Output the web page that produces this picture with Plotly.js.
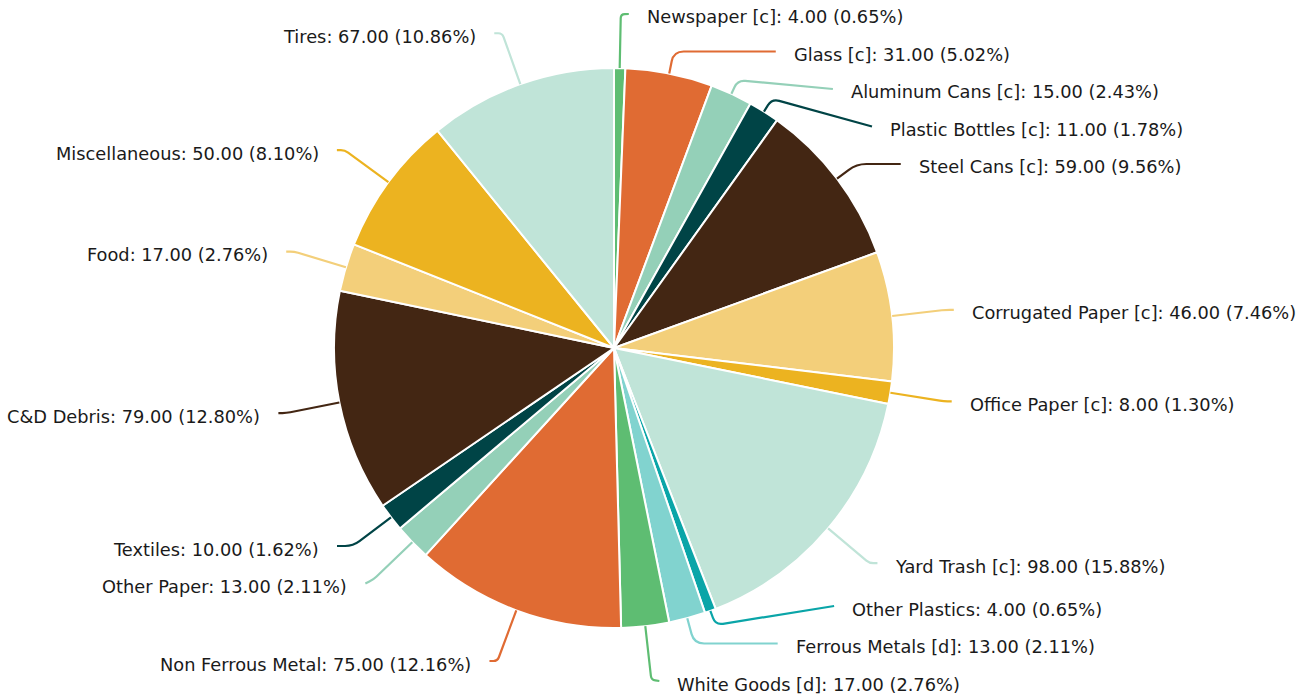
<!DOCTYPE html>
<html>
<head>
<meta charset="utf-8">
<script src="https://cdn.plot.ly/plotly-3.0.1.min.js"></script>
<style>html,body{margin:0;padding:0;background:#fff;}</style>
</head>
<body>
<div id="chart" style="width:1311px;height:698px;"></div>
<script>
const categories = ["Newspaper [c]", "Glass [c]", "Aluminum Cans [c]", "Plastic Bottles [c]", "Steel Cans [c]",
  "Corrugated Paper [c]", "Office Paper [c]", "Yard Trash [c]", "Other Plastics", "Ferrous Metals [d]",
  "White Goods [d]", "Non Ferrous Metal", "Other Paper", "Textiles", "C&D Debris", "Food", "Miscellaneous", "Tires"];
const values = [4, 31, 15, 11, 59, 46, 8, 98, 4, 13, 17, 75, 13, 10, 79, 17, 50, 67];
const colors = ["#5ebd72", "#e06b33", "#94d0b8", "#004446", "#432613", "#f3cf7a", "#ecb320", "#c0e4d8", "#0aa5a8",
  "#81d3cf", "#5ebd72", "#e06b33", "#94d0b8", "#004446", "#432613", "#f3cf7a", "#ecb320", "#c0e4d8"];

const W = 1311, H = 698;
const cx = 614, cy = 348, R = 280;
const LEN = 54, LEN2 = 8, GAP = 37.5, TOP = 14, BOTTOM = 681, TMIN = 15, TEXT_OFF = 17;

const total = values.reduce((a, b) => a + b, 0);
let acc = 0;
const items = values.map((v, i) => {
  const mid = (acc + v / 2) / total * 2 * Math.PI;
  acc += v;
  const s = Math.sin(mid), c = -Math.cos(mid);
  const p1 = [cx + R * s, cy + R * c];
  return { i, s, c, p1, dir: s >= 0 ? 1 : -1, ny: p1[1] + LEN * c };
});

function layoutSide(list) {
  list.sort((a, b) => a.ny - b.ny);
  let clusters = list.map(it => ({ items: [it], sum: it.ny }));
  const pos = cl => {
    const n = cl.items.length;
    let st = cl.sum / n - GAP * (n - 1) / 2;
    st = Math.max(TOP, Math.min(st, BOTTOM - GAP * (n - 1)));
    return st;
  };
  let changed = true;
  while (changed) {
    changed = false;
    for (let k = 0; k < clusters.length - 1; k++) {
      const a = clusters[k], b = clusters[k + 1];
      const aEnd = pos(a) + GAP * (a.items.length - 1);
      if (pos(b) - aEnd < GAP - 0.01) {
        clusters.splice(k, 2, { items: a.items.concat(b.items), sum: a.sum + b.sum });
        changed = true;
        break;
      }
    }
  }
  clusters.forEach(cl => {
    const st = pos(cl);
    cl.items.forEach((it, j) => { it.y3 = st + GAP * j; });
  });
}
layoutSide(items.filter(it => it.dir > 0));
layoutSide(items.filter(it => it.dir < 0));

const px = x => x / W, py = y => 1 - y / H;
const shapes = [], annotations = [];
items.forEach(it => {
  const [x1, y1] = it.p1;
  let t = Math.abs(it.c) > 1e-6 ? (it.y3 - y1) / it.c : LEN;
  t = Math.max(TMIN, Math.min(LEN, t));
  const E = [x1 + t * it.s, y1 + t * it.c];
  const dy = it.y3 - cy;
  const circ = cx + it.dir * (Math.sqrt(Math.max(0, (R + LEN) * (R + LEN) - dy * dy)) + LEN2);
  const x3 = it.dir > 0 ? Math.max(circ, E[0] + LEN2) : Math.min(circ, E[0] - LEN2);
  const P3 = [x3, it.y3];
  const d1 = Math.hypot(E[0] - x1, E[1] - y1), d2 = Math.hypot(P3[0] - E[0], P3[1] - E[1]);
  const k = Math.min(10, d1 / 2, d2 / 2);
  const A = [E[0] - k * (E[0] - x1) / (d1 || 1), E[1] - k * (E[1] - y1) / (d1 || 1)];
  const B = [E[0] + k * (P3[0] - E[0]) / (d2 || 1), E[1] + k * (P3[1] - E[1]) / (d2 || 1)];
  const f = p => px(p[0]).toFixed(5) + ',' + py(p[1]).toFixed(5);
  shapes.push({
    type: 'path', xref: 'paper', yref: 'paper',
    path: 'M' + f(it.p1) + ' L' + f(A) + ' Q' + f(E) + ' ' + f(B) + ' L' + f(P3),
    line: { color: colors[it.i], width: 2.2 }
  });
  const v = values[it.i];
  annotations.push({
    xref: 'paper', yref: 'paper',
    x: px(x3 + it.dir * TEXT_OFF), y: py(it.y3 + 3),
    xanchor: it.dir > 0 ? 'left' : 'right', yanchor: 'middle',
    text: categories[it.i] + ': ' + v.toFixed(2) + ' (' + (v / total * 100).toFixed(2) + '%)',
    showarrow: false, borderpad: 0,
    font: { family: 'DejaVu Sans', size: 17.8, color: '#1a1a1a' }
  });
});

const trace = {
  type: 'pie',
  labels: categories,
  values: values,
  sort: false,
  direction: 'clockwise',
  rotation: 0,
  textinfo: 'none',
  hoverinfo: 'label+value+percent',
  marker: { colors: colors, line: { color: '#ffffff', width: 2 } },
  domain: { x: [(cx - R) / W, (cx + R) / W], y: [1 - (cy + R) / H, 1 - (cy - R) / H] },
  showlegend: false
};

Plotly.newPlot('chart', [trace], {
  width: W, height: H,
  margin: { l: 0, r: 0, t: 0, b: 0, pad: 0 },
  paper_bgcolor: '#ffffff',
  showlegend: false,
  shapes: shapes,
  annotations: annotations
}, { displayModeBar: false, staticPlot: true });
</script>
</body>
</html>
